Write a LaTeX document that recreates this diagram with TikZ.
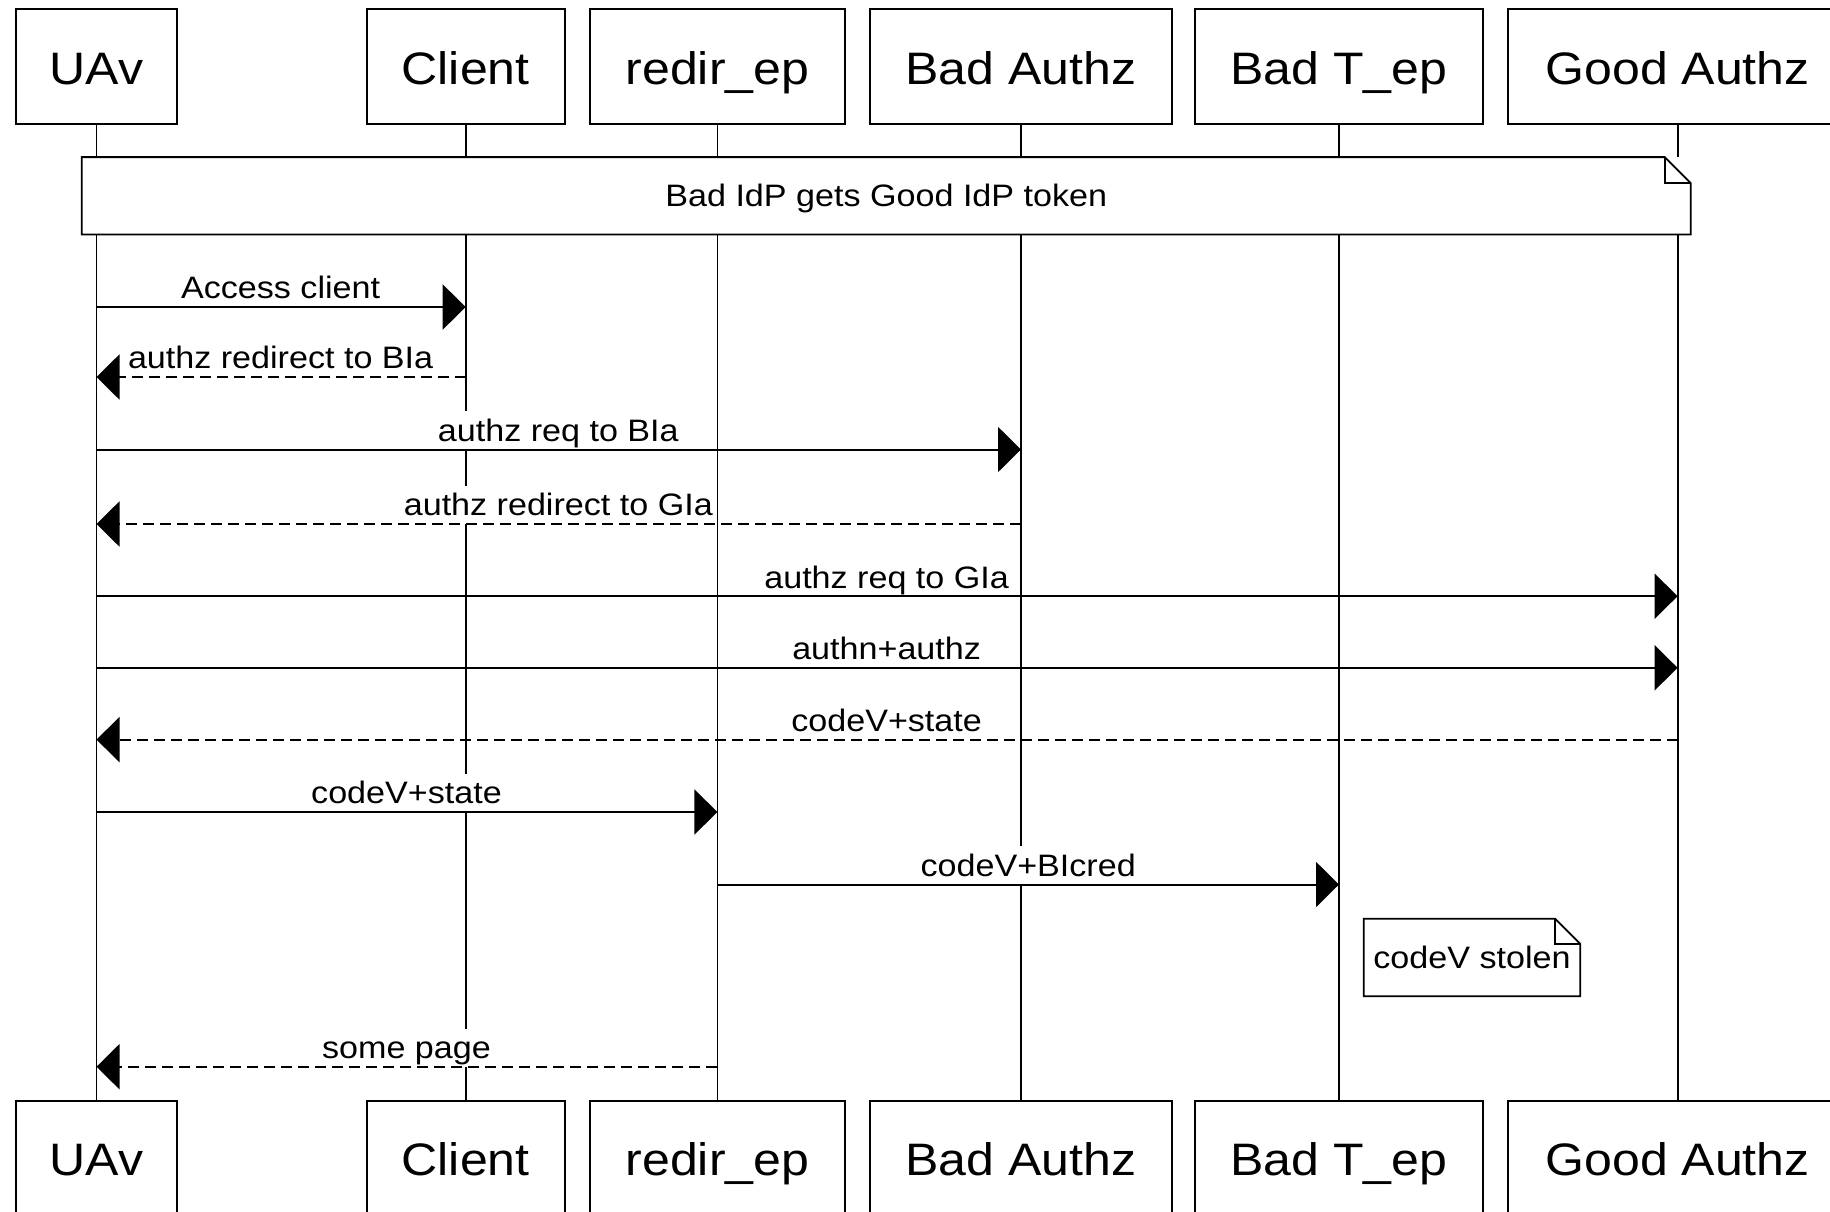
\documentclass[tikz,border=0pt]{standalone}
\usepackage{fontspec}
\setmainfont{Liberation Sans}[FakeStretch=1.1]
\usetikzlibrary{arrows.meta}
\tikzset{
  actor/.style={draw, line width=2pt, fill=white, rectangle, minimum height=115.3pt,
    inner sep=0pt, text height=40pt, text depth=5.3pt, font=\fontsize{45.5}{50}\selectfont},
  lifeline/.style={line width=1.8pt},
  lbl/.style={fill=white, inner xsep=2pt, inner ysep=0pt, text height=30pt, text depth=8pt,
    anchor=south, font=\fontsize{31}{36}\selectfont},
  notebg/.style={fill=white, inner sep=0pt, text height=30pt, text depth=8pt,
    font=\fontsize{31}{36}\selectfont},
  noteline/.style={line width=1.8pt, line join=miter},
  msg/.style={line width=2pt, -{Triangle[length=23pt,width=45pt]}},
  reply/.style={msg, dash pattern=on 11pt off 6pt},
}
\begin{document}
\begin{tikzpicture}[x=1pt,y=-1pt]
\clip (0,0) rectangle (1830,1211);
\fill[white] (0,0) rectangle (1830,1211);
% top actors
\node[actor, minimum width=161.4pt] (uav)  at (96.5,66.65) {UAv};
\node[actor, minimum width=197.8pt] (cli)  at (465.7,66.65) {Client};
\node[actor, minimum width=255.2pt] (red)  at (717.4,66.65) {redir\_ep};
\node[actor, minimum width=302.6pt] (baz)  at (1021,66.65) {Bad Authz};
\node[actor, minimum width=287.6pt] (btp)  at (1339,66.65) {Bad T\_ep};
\node[actor, minimum width=339.2pt] (gaz)  at (1677.6,66.65) {Good Authz};
% bottom actors
\node[actor, minimum width=161.4pt] (uavb) at (96.5,1158.35) {UAv};
\node[actor, minimum width=197.8pt] (clib) at (465.7,1158.35) {Client};
\node[actor, minimum width=255.2pt] (redb) at (717.4,1158.35) {redir\_ep};
\node[actor, minimum width=302.6pt] (bazb) at (1021,1158.35) {Bad Authz};
\node[actor, minimum width=287.6pt] (btpb) at (1339,1158.35) {Bad T\_ep};
\node[actor, minimum width=339.2pt] (gazb) at (1677.6,1158.35) {Good Authz};
% lifelines
\draw[lifeline] (uav.south) -- (uavb.north);
\draw[lifeline] (cli.south) -- (clib.north);
\draw[lifeline] (red.south) -- (redb.north);
\draw[lifeline] (baz.south) -- (bazb.north);
\draw[lifeline] (btp.south) -- (btpb.north);
\draw[lifeline] (gaz.south) -- (gazb.north);
% big note
\node[notebg, minimum width=1608.5pt, minimum height=77pt] (n1) at (886.25,195.8) {Bad IdP gets Good IdP token};
\draw[noteline] (n1.north west) -- ([xshift=-26pt]n1.north east) -- ([yshift=-26pt]n1.north east)
  -- (n1.south east) -- (n1.south west) -- cycle;
\draw[noteline] ([xshift=-26pt]n1.north east) -- ([xshift=-26pt,yshift=-26pt]n1.north east)
  -- ([yshift=-26pt]n1.north east);
% messages
\node[lbl] (l1) at (280.6,307) {Access client};
\draw[msg] (uav |- l1.south) -- (cli |- l1.south);
\node[lbl] (l2) at (280.6,377) {authz redirect to BIa};
\draw[reply] (cli |- l2.south) -- (uav |- l2.south);
\node[lbl] (l3) at (558.3,449.5) {authz req to BIa};
\draw[msg] (uav |- l3.south) -- (baz |- l3.south);
\node[lbl] (l4) at (558.3,524) {authz redirect to GIa};
\draw[reply] (baz |- l4.south) -- (uav |- l4.south);
\node[lbl] (l5) at (886.6,596.2) {authz req to GIa};
\draw[msg] (uav |- l5.south) -- (gaz |- l5.south);
\node[lbl] (l6) at (886.6,667.8) {authn+authz};
\draw[msg] (uav |- l6.south) -- (gaz |- l6.south);
\node[lbl] (l7) at (886.6,739.6) {codeV+state};
\draw[reply] (gaz |- l7.south) -- (uav |- l7.south);
\node[lbl] (l8) at (406.5,812) {codeV+state};
\draw[msg] (uav |- l8.south) -- (red |- l8.south);
\node[lbl] (l9) at (1028.2,884.5) {codeV+BIcred};
\draw[msg] (red |- l9.south) -- (btp |- l9.south);
% small note
\node[notebg, minimum width=216pt, minimum height=77pt] (n2) at (1472,957.5) {codeV stolen};
\draw[noteline] (n2.north west) -- ([xshift=-25pt]n2.north east) -- ([yshift=-25pt]n2.north east)
  -- (n2.south east) -- (n2.south west) -- cycle;
\draw[noteline] ([xshift=-25pt]n2.north east) -- ([xshift=-25pt,yshift=-25pt]n2.north east)
  -- ([yshift=-25pt]n2.north east);
\node[lbl] (l10) at (406.5,1066.7) {some page};
\draw[reply] (red |- l10.south) -- (uav |- l10.south);
\end{tikzpicture}
\end{document}
